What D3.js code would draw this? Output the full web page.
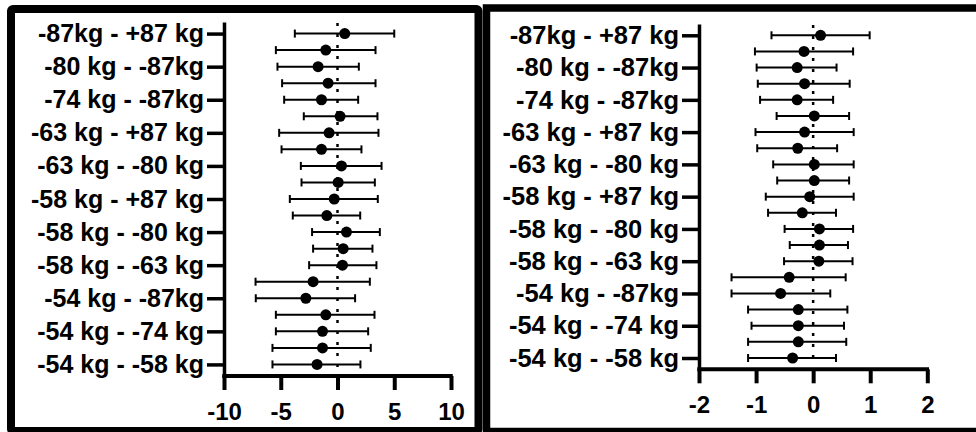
<!DOCTYPE html>
<html>
<head>
<meta charset="utf-8">
<script src="https://cdn.jsdelivr.net/npm/d3@7"></script>
<style>
  body { margin: 0; background: #fff; }
  svg { display: block; }
  text { font-family: "Liberation Sans", Arial, sans-serif; font-weight: bold; fill: #000; }
</style>
</head>
<body>
<div id="chart"></div>
<script>
//////////////////////////////////////////////////////////////////////////////
// Data: pairwise comparisons, listed bottom (index 0) to top (index 20)

const comparisons = [
  "-54/-58", "-54/-63", "-54/-74", "-54/-80", "-54/-87", "-54/+87",
  "-58/-63", "-58/-74", "-58/-80", "-58/-87", "-58/+87",
  "-63/-74", "-63/-80", "-63/-87", "-63/+87",
  "-74/-80", "-74/-87", "-74/+87",
  "-80/-87", "-80/+87",
  "-87/+87"
];

// only every other row carries a tick label
const tickRows = [0, 2, 4, 6, 8, 10, 12, 14, 16, 18, 20];
const tickLabels = [
  "-54 kg - -58 kg", "-54 kg - -74 kg", "-54 kg - -87kg", "-58 kg - -63 kg",
  "-58 kg - -80 kg", "-58 kg - +87 kg", "-63 kg - -80 kg", "-63 kg - +87 kg",
  "-74 kg - -87kg", "-80 kg - -87kg", "-87kg - +87 kg"
];

// left panel
const leftMean = [-1.80, -1.32, -1.32, -1.03, -2.79, -2.15, 0.44, 0.50, 0.79, -0.94, -0.29,
                  0.06, 0.35, -1.41, -0.74, 0.23, -1.41, -0.83, -1.71, -1.03, 0.64];
const leftLow  = [-5.73, -5.73, -5.43, -5.43, -7.20, -7.22, -2.50, -2.15, -2.24, -3.94, -4.20,
                  -3.17, -3.23, -4.93, -5.14, -2.97, -4.70, -4.88, -5.29, -5.43, -3.76];
const leftHigh = [2.02, 2.93, 2.70, 3.26, 1.55, 2.85, 3.43, 3.08, 3.73, 2.00, 3.55,
                  3.29, 3.88, 2.11, 3.61, 3.52, 1.82, 3.35, 1.88, 3.35, 5.00];
const leftTicks = [-10, -5, 0, 5, 10];

// right panel
const rightMean = [-0.36, -0.26, -0.26, -0.26, -0.57, -0.42, 0.10, 0.11, 0.11, -0.19, -0.06,
                   0.02, 0.02, -0.27, -0.15, 0.02, -0.28, -0.15, -0.28, -0.16, 0.13];
const rightLow  = [-1.14, -1.14, -1.08, -1.14, -1.43, -1.43, -0.51, -0.41, -0.50, -0.79, -0.83,
                   -0.63, -0.70, -0.98, -1.01, -0.64, -0.93, -0.97, -0.99, -1.02, -0.73];
const rightHigh = [0.40, 0.58, 0.54, 0.60, 0.30, 0.57, 0.69, 0.61, 0.70, 0.40, 0.71,
                   0.63, 0.71, 0.42, 0.71, 0.63, 0.35, 0.64, 0.41, 0.70, 0.99];
const rightTicks = [-2, -1, 0, 1, 2];

//////////////////////////////////////////////////////////////////////////////
// Canvas

const width = 976;
const height = 432;

const svg = d3.select("#chart").append("svg")
    .attr("width", width)
    .attr("height", height);

// panel frames
svg.append("rect")
    .attr("x", 11).attr("y", 9)
    .attr("width", 467.5).attr("height", 422)
    .attr("rx", 2)
    .attr("fill", "#fff")
    .attr("stroke", "#000")
    .attr("stroke-width", 8);

svg.append("rect")
    .attr("x", 486.5).attr("y", 8)
    .attr("width", 520).attr("height", 423.5)
    .attr("fill", "#fff")
    .attr("stroke", "#000")
    .attr("stroke-width", 7.5);

drawPanel({
  mean: leftMean, low: leftLow, high: leftHigh, ticks: leftTicks,
  xDomain: [-10, 10], xRange: [224, 451],
  yRange: [376, 22], labelSize: 25
});

drawPanel({
  mean: rightMean, low: rightLow, high: rightHigh, ticks: rightTicks,
  xDomain: [-2, 2], xRange: [699, 927.3],
  yRange: [369.3, 24], labelSize: 25.5
});

//////////////////////////////////////////////////////////////////////////////
// One forest plot

function drawPanel(p) {
  const rows = comparisons.map((c, i) => ({
    name: c, i: i, mean: p.mean[i], low: p.low[i], high: p.high[i]
  }));

  const x = d3.scaleLinear().domain(p.xDomain).range(p.xRange);
  const y = d3.scaleLinear().domain([-0.7, comparisons.length - 0.3]).range(p.yRange);

  const g = svg.append("g");

  // dotted zero line
  g.append("line")
      .attr("x1", x(0)).attr("x2", x(0))
      .attr("y1", p.yRange[1] + 1).attr("y2", p.yRange[0] - 6)
      .attr("stroke", "#000")
      .attr("stroke-width", 2.5)
      .attr("stroke-dasharray", "3 8");

  // whiskers
  const bars = g.append("g").selectAll("g")
    .data(rows)
    .join("g")
      .attr("transform", d => `translate(0,${y(d.i)})`);

  bars.append("line")
      .attr("x1", d => x(d.low)).attr("x2", d => x(d.high))
      .attr("stroke", "#000").attr("stroke-width", 2);

  bars.selectAll(".cap")
    .data(d => [d.low, d.high])
    .join("line")
      .attr("class", "cap")
      .attr("x1", d => x(d)).attr("x2", d => x(d))
      .attr("y1", -4).attr("y2", 4)
      .attr("stroke", "#000").attr("stroke-width", 2);

  bars.append("circle")
      .attr("cx", d => x(d.mean))
      .attr("r", 5.5)
      .attr("fill", "#000");

  // axes
  const yAxis = d3.axisLeft(y)
      .tickValues(tickRows)
      .tickFormat((d, k) => tickLabels[k])
      .tickSize(17)
      .tickSizeOuter(0)
      .tickPadding(3);

  // plain hyphen for negatives, as in the original
  const xAxis = d3.axisBottom(x)
      .tickValues(p.ticks)
      .tickFormat(d => String(d))
      .tickSize(14)
      .tickSizeOuter(0)
      .tickPadding(13);

  g.append("g")
      .attr("transform", `translate(${p.xRange[0]},0)`)
      .call(yAxis)
      .call(a => a.selectAll("path, line").attr("stroke", "#000").attr("stroke-width", 3.5))
      .call(a => a.selectAll("text").style("font-size", p.labelSize + "px").attr("fill", "#000"));

  g.append("g")
      .attr("transform", `translate(0,${p.yRange[0]})`)
      .call(xAxis)
      .call(a => a.select(".domain").attr("d", `M${p.xRange[0] - 1.75},0H${p.xRange[1] + 1.75}`))
      .call(a => a.selectAll("path, line").attr("stroke", "#000").attr("stroke-width", 4))
      .call(a => a.selectAll("text").style("font-size", "24px").attr("fill", "#000"));
}
</script>
</body>
</html>
